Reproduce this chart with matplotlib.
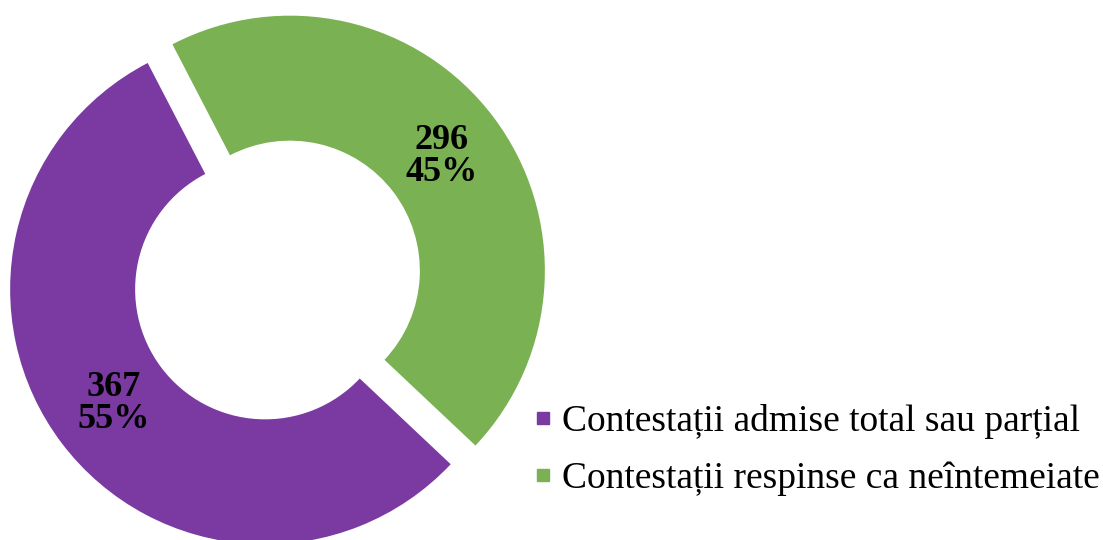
import matplotlib
matplotlib.use("Agg")
import matplotlib.pyplot as plt
from matplotlib.lines import Line2D

# Appeals outcome: count per category
categories = ["Contestații admise total sau parțial",
              "Contestații respinse ca neîntemeiate"]
values = [367, 296]
colors = ["#7A3AA2", "#7AB152"]

total = sum(values)

plt.rcParams["font.family"] = ["Liberation Serif", "DejaVu Serif"]

W, H = 1103, 540
fig = plt.figure(figsize=(W / 100, H / 100), dpi=100)
ax = fig.add_axes([0, 0, 1, 1])

outer_r = 255
ring_w = 125
center = (277.5, 260)
gap_shift = 15.5

def fmt(pct):
    n = round(pct * total / 100.0)
    return f"{n}\n{pct:.0f}%"

wedges, texts, autotexts = ax.pie(
    values,
    colors=colors,
    startangle=-43.3,
    counterclock=False,
    radius=outer_r,
    center=center,
    explode=[gap_shift] * len(values),
    wedgeprops=dict(width=ring_w, linewidth=0),
    autopct=fmt,
    pctdistance=190 / outer_r,
    textprops=dict(fontsize=26, fontweight="bold", color="black",
                   linespacing=0.95),
)
for t in autotexts:
    t.set_ha("center")
    t.set_va("center")

ax.set_xlim(0, W)
ax.set_ylim(0, H)
ax.set_aspect("equal")
ax.axis("off")

handles = [Line2D([], [], linestyle="none", marker="s", markersize=8.6,
                  markerfacecolor=c, markeredgecolor=c) for c in colors]
fig.legend(handles, categories, loc="center left",
           bbox_to_anchor=(533.6 / W, 1 - 450 / H),
           frameon=False, fontsize=27, handlelength=0.5,
           handletextpad=0.25, labelspacing=0.6, borderpad=0,
           borderaxespad=0)

fig.savefig("out.png", dpi=100)
